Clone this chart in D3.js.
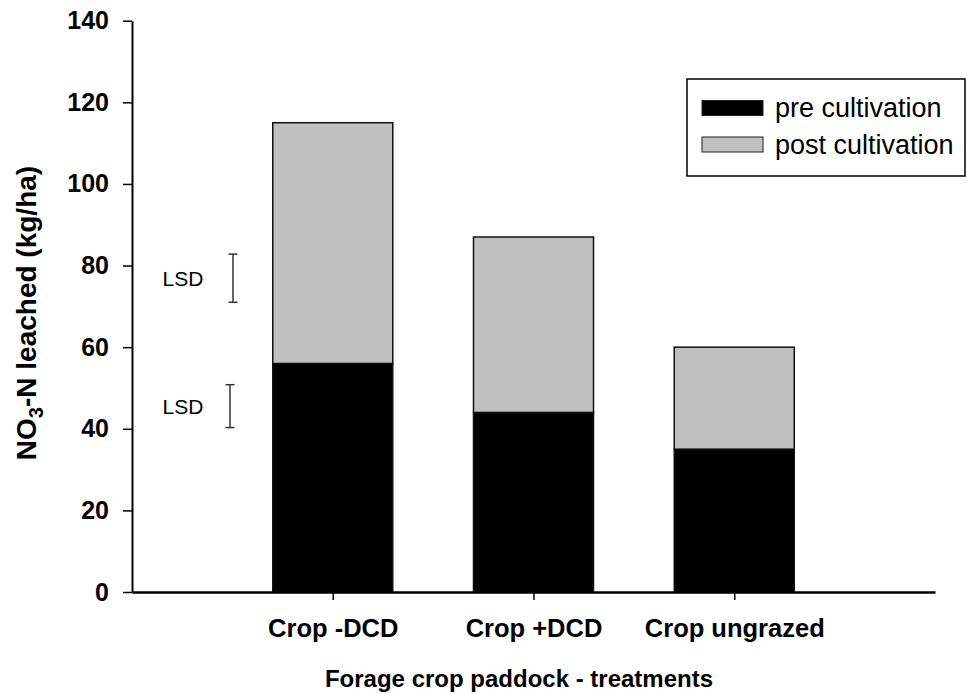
<!DOCTYPE html>
<meta charset="utf-8">
<script src="https://d3js.org/d3.v7.min.js"></script>
<style>
  body { margin: 0; background: #fff; }
  text { font-family: "Liberation Sans", Arial, sans-serif; }
</style>
<div id="my_dataviz"></div>
<script>

// data
var categories = ["Crop -DCD", "Crop +DCD", "Crop ungrazed"];
var preCultivation = [56, 44, 35];
var postCultivation = [59, 43, 25];
var yTicks = [0, 20, 40, 60, 80, 100, 120, 140];
var seriesNames = ["pre cultivation", "post cultivation"];
var lsdLow = [71, 40.3];
var lsdHigh = [82.8, 50.8];

var width = 967, height = 694;
var plotLeft = 132, plotRight = 935, plotTop = 20.7, plotBottom = 592;

var svg = d3.select("#my_dataviz")
  .append("svg")
    .attr("width", width)
    .attr("height", height);

var x = d3.scalePoint()
  .domain(categories)
  .range([plotLeft, plotRight])
  .padding(1);

var y = d3.scaleLinear()
  .domain([0, 140])
  .range([plotBottom, plotTop]);

var barW = 120;

// stacked bars
var rows = categories.map(function(c, i) {
  return {cat: c, pre: preCultivation[i], post: postCultivation[i]};
});
var stack = d3.stack().keys(["pre", "post"])(rows);
var fills = ["#000000", "#c0c0c0"];

stack.forEach(function(layer, k) {
  svg.append("g")
    .selectAll("rect")
    .data(layer)
    .enter()
    .append("rect")
      .attr("x", function(d) { return x(d.data.cat) - barW / 2; })
      .attr("y", function(d) { return y(d[1]); })
      .attr("width", barW)
      .attr("height", function(d) { return y(d[0]) - y(d[1]); })
      .style("fill", fills[k])
      .style("stroke", "#111")
      .style("stroke-width", 1.5);
});

// Y axis
var yAxis = svg.append("g")
  .attr("transform", "translate(" + plotLeft + ",0)")
  .call(d3.axisLeft(y).tickValues(yTicks).tickSize(9).tickPadding(14).tickSizeOuter(0));
yAxis.select(".domain").style("stroke-width", 2);
yAxis.selectAll(".tick line").style("stroke-width", 1.5);
yAxis.selectAll("text")
  .style("font-size", "25px")
  .style("font-weight", "bold")
  .style("font-family", "Liberation Sans, Arial, sans-serif")
  .attr("fill", "#000");

// X axis
var xAxis = svg.append("g")
  .attr("transform", "translate(0," + plotBottom + ")")
  .call(d3.axisBottom(x).tickSize(8).tickPadding(19).tickSizeOuter(0));
xAxis.select(".domain").style("stroke-width", 2.5);
xAxis.selectAll(".tick line").style("stroke-width", 1.5);
xAxis.selectAll("text")
  .style("font-size", "25.5px")
  .style("font-weight", "bold")
  .style("font-family", "Liberation Sans, Arial, sans-serif")
  .attr("fill", "#000");

// axis titles
svg.append("text")
  .attr("text-anchor", "middle")
  .attr("x", 519)
  .attr("y", 687)
  .style("font-size", "24px")
  .style("font-weight", "bold")
  .text("Forage crop paddock - treatments");

var yt = svg.append("text")
  .attr("text-anchor", "middle")
  .attr("transform", "translate(36,313) rotate(-90)")
  .style("font-size", "28px")
  .style("font-weight", "bold");
yt.append("tspan").text("NO");
yt.append("tspan").attr("dy", 7).style("font-size", "20px").text("3");
yt.append("tspan").attr("dy", -7).text("-N leached (kg/ha)");

// LSD bars
var lsdX = [233, 230];
lsdLow.forEach(function(lo, i) {
  var g = svg.append("g").style("stroke", "#333").style("stroke-width", 1.5);
  g.append("line").attr("x1", lsdX[i]).attr("x2", lsdX[i]).attr("y1", y(lo)).attr("y2", y(lsdHigh[i]));
  g.append("line").attr("x1", lsdX[i] - 4.5).attr("x2", lsdX[i] + 4.5).attr("y1", y(lo)).attr("y2", y(lo));
  g.append("line").attr("x1", lsdX[i] - 4.5).attr("x2", lsdX[i] + 4.5).attr("y1", y(lsdHigh[i])).attr("y2", y(lsdHigh[i]));
  svg.append("text")
    .attr("x", 183)
    .attr("y", y((lo + lsdHigh[i]) / 2))
    .attr("text-anchor", "middle")
    .attr("dominant-baseline", "central")
    .style("font-size", "21px")
    .text("LSD");
});

// legend
svg.append("rect")
  .attr("x", 687).attr("y", 79)
  .attr("width", 278).attr("height", 97)
  .style("fill", "none").style("stroke", "#000").style("stroke-width", 1.5);
seriesNames.forEach(function(name, i) {
  var cy = 108 + i * 36.5;
  svg.append("rect")
    .attr("x", 702).attr("y", cy - 7.5)
    .attr("width", 61).attr("height", 15)
    .style("fill", fills[i]).style("stroke", "#222").style("stroke-width", 1);
  svg.append("text")
    .attr("x", 775).attr("y", cy)
    .attr("dominant-baseline", "central")
    .style("font-size", "27px")
    .text(name);
});

</script>
